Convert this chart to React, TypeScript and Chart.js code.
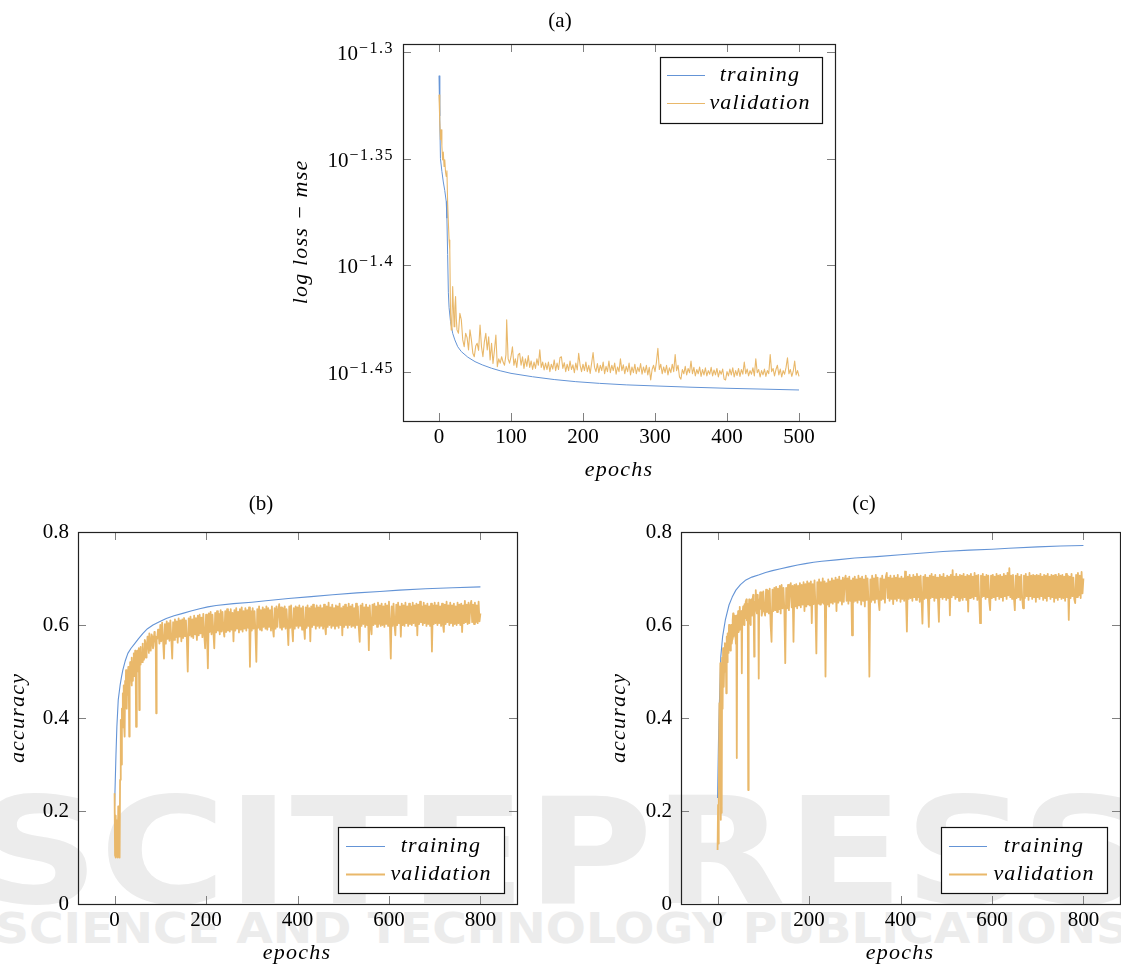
import React, { useEffect, useRef } from 'react';
import { Chart, registerables } from 'chart.js';

Chart.register(...registerables);

// ---------------- (a) log loss (values are log10 of the mse) ----------------
const xTicksA = [0, 100, 200, 300, 400, 500];
const logTicksA = [-1.45, -1.4, -1.35, -1.3];

const trainLog10MseA: [number, number][] = [
  [0, -1.3111], [1, -1.33], [2, -1.35], [4, -1.356], [6, -1.361], [8, -1.365], [10, -1.37],
  [11, -1.378], [12, -1.395], [13, -1.413], [14, -1.42], [16, -1.4265], [19, -1.432],
  [22, -1.4351], [26, -1.4383], [31, -1.4406], [40, -1.4432], [50, -1.4453], [60, -1.4468],
  [73, -1.4484], [85, -1.4496], [100, -1.4508], [130, -1.4524], [160, -1.4537], [190, -1.4547],
  [223, -1.4555], [260, -1.4562], [300, -1.4567], [350, -1.4573], [400, -1.4578], [450, -1.4582],
  [500, -1.4586],
];

// validation, epochs 0..98 (explicit epochs)
const valLog10MseAHead: [number, number][] = [
  [0, -1.3201], [1, -1.3318], [2, -1.3412], [3, -1.3365], [4, -1.344], [5, -1.3506], [6, -1.347],
  [7, -1.3537], [8, -1.3506], [9, -1.356], [10, -1.3584], [11, -1.3558], [12, -1.3709], [13, -1.38],
  [14, -1.3882], [15, -1.3929], [16, -1.4226], [17, -1.4304], [18, -1.425], [19, -1.4101], [20, -1.42],
  [21, -1.4289], [22, -1.42], [23, -1.4148], [24, -1.425], [25, -1.4304], [27, -1.432], [29, -1.4226],
  [31, -1.4257], [33, -1.4351], [35, -1.4383], [37, -1.432], [39, -1.434], [41, -1.4398], [43, -1.4304],
  [45, -1.4351], [47, -1.4414], [49, -1.443], [51, -1.438], [53, -1.4367], [55, -1.44], [57, -1.4281],
  [59, -1.4383], [61, -1.443], [63, -1.436], [65, -1.432], [67, -1.4398], [69, -1.4336], [71, -1.4445],
  [73, -1.4367], [75, -1.4461], [77, -1.44], [79, -1.4328], [81, -1.4477], [83, -1.444], [85, -1.446],
  [87, -1.443], [89, -1.4455], [91, -1.447], [93, -1.442], [94, -1.4257], [96, -1.444], [98, -1.446],
];
// validation, epochs 100..500 every 2 epochs
const valTailStartA = 100;
const valTailStepA = 2;
const valLog10MseATail = [
  -1.443, -1.4383, -1.447, -1.444, -1.448, -1.442, -1.4414, -1.447, -1.443, -1.4485, -1.444, -1.4475, -1.4425,
  -1.448, -1.445, -1.449, -1.4455, -1.4485, -1.444, -1.447, -1.4398, -1.448, -1.4455, -1.4492, -1.446,
  -1.449, -1.4455, -1.45, -1.4465, -1.4488, -1.4445, -1.4495, -1.446, -1.449, -1.4435, -1.443, -1.4485,
  -1.4458, -1.45, -1.4465, -1.4495, -1.445, -1.449, -1.4468, -1.4505, -1.446, -1.4492, -1.4414, -1.447, -1.45,
  -1.4465, -1.4495, -1.4455, -1.45, -1.447, -1.4508, -1.446, -1.441, -1.448, -1.45, -1.4462, -1.4505, -1.447,
  -1.4495, -1.4455, -1.451, -1.4475, -1.45, -1.445, -1.4505, -1.447, -1.4495, -1.446, -1.4512, -1.4478,
  -1.45, -1.444, -1.4495, -1.4468, -1.451, -1.4475, -1.45, -1.446, -1.4515, -1.4478, -1.4505, -1.4465,
  -1.451, -1.448, -1.45, -1.4462, -1.4512, -1.4478, -1.4505, -1.447, -1.4515, -1.448, -1.4539, -1.449, -1.447,
  -1.45, -1.4455, -1.439, -1.449, -1.4465, -1.451, -1.4478, -1.4505, -1.447, -1.4515, -1.4482, -1.4505,
  -1.4465, -1.45, -1.442, -1.4495, -1.447, -1.4525, -1.4535, -1.449, -1.451, -1.4475, -1.4515, -1.4485, -1.4505,
  -1.445, -1.451, -1.448, -1.452, -1.449, -1.451, -1.4478, -1.4522, -1.449, -1.4515, -1.4482, -1.452, -1.4495,
  -1.4512, -1.448, -1.452, -1.4492, -1.4515, -1.4485, -1.4525, -1.4495, -1.4512, -1.4488, -1.4535, -1.4539,
  -1.45, -1.452, -1.4488, -1.4515, -1.4482, -1.4525, -1.4495, -1.4518, -1.4485, -1.4522, -1.449, -1.4512,
  -1.4455, -1.451, -1.4488, -1.452, -1.4495, -1.4512, -1.4482, -1.452, -1.444, -1.4505, -1.449, -1.4525, -1.4495,
  -1.4515, -1.4488, -1.4522, -1.4495, -1.451, -1.442, -1.45, -1.4485, -1.452, -1.449, -1.447, -1.4515, -1.4488,
  -1.4525, -1.4495, -1.4512, -1.448, -1.4435, -1.451, -1.449, -1.4522, -1.4498, -1.445, -1.4515, -1.4495,
  -1.4522,
];

// ---------------- (b) accuracy ----------------
const xTicksBC = [0, 200, 400, 600, 800];
const yTicksBC = [0, 0.2, 0.4, 0.6, 0.8];

const trainAccB: [number, number][] = [
  [0, 0.21], [3, 0.32], [5, 0.381], [8, 0.439], [12, 0.47], [15, 0.488], [18, 0.503], [23, 0.522],
  [29, 0.539], [36, 0.55], [44, 0.56], [52, 0.57], [62, 0.582], [72, 0.592], [84, 0.6], [98, 0.607],
  [113, 0.614], [130, 0.62], [149, 0.625], [167, 0.63], [186, 0.635], [204, 0.639], [222, 0.642],
  [260, 0.646], [300, 0.649], [331, 0.652], [380, 0.657], [430, 0.661], [477, 0.665], [530, 0.669],
  [580, 0.672], [623, 0.675], [680, 0.678], [740, 0.68], [800, 0.682],
];

const valAccBHead: [number, number][] = [
  [0, 0.238], [1, 0.105], [2, 0.19], [3, 0.1], [4, 0.18], [5, 0.102], [6, 0.14], [7, 0.1], [8, 0.21],
  [9, 0.102], [10, 0.12], [11, 0.1], [12, 0.267], [13, 0.33], [14, 0.396], [15, 0.3], [16, 0.42],
  [17, 0.38], [18, 0.453], [19, 0.4], [20, 0.47], [21, 0.38], [22, 0.36], [23, 0.48], [24, 0.44],
  [25, 0.503], [26, 0.47], [27, 0.42], [28, 0.5], [29, 0.45], [30, 0.51], [31, 0.48], [32, 0.36],
  [33, 0.47], [34, 0.52], [35, 0.49], [36, 0.51], [37, 0.47], [38, 0.53], [39, 0.5], [40, 0.48],
  [41, 0.52], [42, 0.539], [43, 0.49], [44, 0.5], [45, 0.545], [46, 0.53], [47, 0.381], [48, 0.53],
  [49, 0.51], [50, 0.545], [51, 0.52], [52, 0.5], [53, 0.55], [54, 0.417], [55, 0.54], [56, 0.515],
  [57, 0.553], [58, 0.53], [60, 0.52], [61, 0.56], [62, 0.555], [64, 0.525], [65, 0.53], [66, 0.568],
  [67, 0.565], [69, 0.53], [70, 0.54], [72, 0.575], [73, 0.57], [75, 0.54], [76, 0.582], [78, 0.55],
  [79, 0.545], [81, 0.58], [82, 0.575], [84, 0.55], [85, 0.555], [87, 0.585], [88, 0.58], [90, 0.56],
  [91, 0.41], [92, 0.575], [93, 0.57], [95, 0.59], [96, 0.585], [98, 0.56], [99, 0.56],
];
const valTailStartBC = 100;
const valTailStepBC = 2;
const valAccBTail = [
  0.6, 0.565, 0.605, 0.568, 0.528, 0.602, 0.56, 0.608, 0.57, 0.604, 0.566, 0.61, 0.572, 0.528, 0.606, 0.568,
  0.612, 0.574, 0.608, 0.562, 0.614, 0.575, 0.61, 0.565, 0.612,
  0.572, 0.615, 0.576, 0.61, 0.57, 0.5, 0.614, 0.578, 0.618, 0.575, 0.612, 0.572, 0.62, 0.58, 0.615, 0.568,
  0.62, 0.578, 0.622, 0.582, 0.616, 0.574, 0.624, 0.58, 0.55,
  0.622, 0.582, 0.507, 0.625, 0.585, 0.628, 0.58, 0.622, 0.586, 0.55, 0.626, 0.584, 0.63, 0.588, 0.624, 0.58,
  0.632, 0.586, 0.628, 0.59, 0.575, 0.63, 0.585, 0.634, 0.588,
  0.628, 0.586, 0.634, 0.59, 0.626, 0.565, 0.632, 0.588, 0.636, 0.592, 0.628, 0.584, 0.634, 0.59, 0.638, 0.586,
  0.63, 0.592, 0.636, 0.588, 0.632, 0.594, 0.638, 0.51, 0.63,
  0.588, 0.636, 0.592, 0.63, 0.586, 0.521, 0.634, 0.594, 0.64, 0.59, 0.632, 0.588, 0.638, 0.596, 0.634, 0.592,
  0.64, 0.59, 0.636, 0.596, 0.632, 0.588, 0.64, 0.594, 0.575,
  0.636, 0.592, 0.64, 0.596, 0.632, 0.645, 0.594, 0.638, 0.59, 0.636, 0.596, 0.64, 0.592, 0.634, 0.598, 0.557,
  0.64, 0.594, 0.642, 0.596, 0.565, 0.636, 0.592, 0.64, 0.598,
  0.638, 0.594, 0.642, 0.598, 0.636, 0.59, 0.64, 0.596, 0.57, 0.638, 0.594, 0.642, 0.598, 0.636, 0.565, 0.64,
  0.596, 0.644, 0.6, 0.636, 0.592, 0.642, 0.598, 0.638, 0.594,
  0.642, 0.598, 0.636, 0.592, 0.644, 0.598, 0.58, 0.64, 0.596, 0.648, 0.6, 0.638, 0.594, 0.644, 0.598, 0.636,
  0.592, 0.642, 0.598, 0.64, 0.594, 0.646, 0.6, 0.636, 0.578,
  0.64, 0.596, 0.644, 0.6, 0.638, 0.594, 0.646, 0.6, 0.64, 0.596, 0.644, 0.598, 0.636, 0.594, 0.646, 0.6, 0.64,
  0.594, 0.564, 0.642, 0.598, 0.646, 0.602, 0.638, 0.596,
  0.644, 0.6, 0.638, 0.546, 0.642, 0.598, 0.58, 0.644, 0.6, 0.646, 0.602, 0.64, 0.596, 0.648, 0.602, 0.642,
  0.598, 0.646, 0.6, 0.64, 0.596, 0.646, 0.602, 0.642, 0.598,
  0.65, 0.604, 0.528, 0.64, 0.598, 0.646, 0.602, 0.578, 0.644, 0.6, 0.648, 0.604, 0.64, 0.575, 0.646, 0.6,
  0.642, 0.598, 0.648, 0.604, 0.64, 0.598, 0.646, 0.602, 0.64,
  0.6, 0.648, 0.604, 0.642, 0.598, 0.646, 0.578, 0.644, 0.602, 0.65, 0.606, 0.64, 0.6, 0.648, 0.604, 0.642,
  0.598, 0.646, 0.602, 0.64, 0.598, 0.646, 0.543, 0.642, 0.602,
  0.648, 0.604, 0.642, 0.6, 0.648, 0.604, 0.64, 0.598, 0.646, 0.602, 0.585, 0.644, 0.602, 0.65, 0.606, 0.642,
  0.6, 0.648, 0.604, 0.642, 0.598, 0.646, 0.602, 0.64, 0.6,
  0.648, 0.604, 0.644, 0.6, 0.646, 0.585, 0.642, 0.604, 0.652, 0.606, 0.644, 0.602, 0.648, 0.604, 0.642, 0.652,
  0.606, 0.644, 0.602, 0.648, 0.606, 0.642, 0.604, 0.65, 0.608,
  0.625,
];

// ---------------- (c) accuracy ----------------
const trainAccC: [number, number][] = [
  [0, 0.228], [2, 0.35], [4, 0.432], [7, 0.532], [11, 0.575], [17, 0.611], [25, 0.643], [32, 0.66],
  [40, 0.675], [50, 0.687], [62, 0.697], [75, 0.703], [91, 0.708], [105, 0.713], [120, 0.717],
  [138, 0.721], [156, 0.725], [175, 0.729], [192, 0.732], [210, 0.735], [228, 0.737], [260, 0.74],
  [300, 0.744], [348, 0.747], [400, 0.751], [450, 0.755], [493, 0.758], [550, 0.761], [600, 0.763],
  [637, 0.765], [700, 0.768], [750, 0.77], [800, 0.771],
];

const valAccCHead: [number, number][] = [
  [0, 0.116], [1, 0.213], [2, 0.13], [3, 0.2], [4, 0.432], [5, 0.25], [6, 0.518], [7, 0.181],
  [8, 0.45], [9, 0.196], [10, 0.53], [11, 0.42], [12, 0.55], [13, 0.48], [14, 0.467], [15, 0.54],
  [16, 0.561], [17, 0.5], [18, 0.54], [19, 0.453], [20, 0.575], [21, 0.52], [22, 0.582], [23, 0.54],
  [24, 0.56], [25, 0.6], [26, 0.59], [27, 0.55], [28, 0.545], [29, 0.595], [30, 0.6], [31, 0.56],
  [32, 0.57], [33, 0.61], [34, 0.625], [35, 0.575], [36, 0.59], [37, 0.62], [38, 0.61], [39, 0.58],
  [40, 0.56], [41, 0.62], [42, 0.314], [43, 0.6], [44, 0.61], [45, 0.63], [46, 0.585], [47, 0.59],
  [48, 0.625], [49, 0.639], [50, 0.59], [51, 0.6], [52, 0.63], [53, 0.496], [54, 0.62], [55, 0.62],
  [56, 0.64], [57, 0.605], [58, 0.6], [59, 0.645], [60, 0.62], [61, 0.615], [62, 0.65], [63, 0.655],
  [64, 0.61], [65, 0.61], [66, 0.645], [67, 0.245], [68, 0.62], [69, 0.655], [70, 0.64], [71, 0.61],
  [72, 0.6], [73, 0.65], [74, 0.655], [75, 0.62], [76, 0.63], [77, 0.66], [78, 0.665], [79, 0.625],
  [80, 0.532], [81, 0.64], [82, 0.65], [83, 0.665], [84, 0.675], [85, 0.63], [86, 0.625], [87, 0.665],
  [88, 0.66], [89, 0.63], [90, 0.485], [91, 0.655], [92, 0.64], [93, 0.67], [94, 0.635], [95, 0.67],
  [96, 0.64], [97, 0.62], [98, 0.63], [99, 0.66],
];
const valAccCTail = [
  0.672, 0.63, 0.62, 0.676, 0.628, 0.674, 0.625, 0.678, 0.6, 0.564, 0.676, 0.63, 0.68, 0.632, 0.682, 0.628,
  0.678, 0.634, 0.684, 0.625, 0.686, 0.636, 0.68, 0.632, 0.518,
  0.68, 0.636, 0.686, 0.632, 0.682, 0.69, 0.638, 0.684, 0.564, 0.686, 0.64, 0.688, 0.636, 0.684, 0.642, 0.69,
  0.638, 0.686, 0.644, 0.692, 0.63, 0.688, 0.64, 0.694, 0.644,
  0.69, 0.642, 0.694, 0.604, 0.688, 0.645, 0.696, 0.64, 0.539, 0.692, 0.646, 0.698, 0.644, 0.692, 0.648, 0.7,
  0.646, 0.694, 0.489, 0.69, 0.644, 0.698, 0.64, 0.694, 0.648,
  0.7, 0.646, 0.696, 0.65, 0.702, 0.63, 0.698, 0.648, 0.704, 0.652, 0.696, 0.644, 0.702, 0.65, 0.698, 0.706,
  0.652, 0.7, 0.646, 0.704, 0.652, 0.696, 0.578, 0.7, 0.65,
  0.704, 0.652, 0.698, 0.648, 0.706, 0.654, 0.7, 0.644, 0.704, 0.652, 0.698, 0.64, 0.706, 0.654, 0.7, 0.65,
  0.489, 0.698, 0.65, 0.706, 0.654, 0.7, 0.648, 0.708, 0.656,
  0.702, 0.652, 0.632, 0.7, 0.654, 0.706, 0.656, 0.698, 0.648, 0.704, 0.712, 0.658, 0.702, 0.652, 0.706, 0.656,
  0.7, 0.645, 0.706, 0.656, 0.702, 0.652, 0.708, 0.658, 0.7,
  0.65, 0.704, 0.656, 0.7, 0.652, 0.715, 0.66, 0.586, 0.704, 0.656, 0.708, 0.658, 0.702, 0.652, 0.708, 0.66,
  0.704, 0.654, 0.71, 0.66, 0.704, 0.65, 0.706, 0.656, 0.603,
  0.704, 0.656, 0.708, 0.658, 0.702, 0.652, 0.596, 0.706, 0.658, 0.71, 0.66, 0.704, 0.652, 0.708, 0.658, 0.702,
  0.654, 0.607, 0.708, 0.66, 0.704, 0.656, 0.71, 0.66, 0.702,
  0.654, 0.706, 0.658, 0.704, 0.621, 0.708, 0.66, 0.718, 0.664, 0.704, 0.656, 0.71, 0.66, 0.704, 0.652, 0.708,
  0.658, 0.706, 0.654, 0.71, 0.66, 0.704, 0.654, 0.708, 0.629,
  0.706, 0.658, 0.71, 0.66, 0.704, 0.656, 0.712, 0.662, 0.706, 0.654, 0.708, 0.658, 0.604, 0.706, 0.66, 0.71,
  0.662, 0.704, 0.656, 0.708, 0.66, 0.706, 0.652, 0.632, 0.706,
  0.658, 0.708, 0.66, 0.704, 0.654, 0.71, 0.662, 0.706, 0.656, 0.708, 0.66, 0.704, 0.652, 0.71, 0.662, 0.706,
  0.656, 0.712, 0.664, 0.722, 0.66, 0.706, 0.656, 0.708, 0.66,
  0.632, 0.706, 0.658, 0.71, 0.66, 0.704, 0.654, 0.708, 0.66, 0.636, 0.706, 0.658, 0.71, 0.662, 0.704, 0.654,
  0.712, 0.662, 0.706, 0.656, 0.708, 0.66, 0.706, 0.65, 0.708,
  0.66, 0.706, 0.656, 0.71, 0.662, 0.704, 0.654, 0.708, 0.658, 0.706, 0.652, 0.71, 0.662, 0.704, 0.656, 0.708,
  0.66, 0.706, 0.65, 0.708, 0.658, 0.704, 0.654, 0.71, 0.66,
  0.706, 0.656, 0.708, 0.658, 0.704, 0.652, 0.71, 0.66, 0.706, 0.611, 0.704, 0.658, 0.71, 0.662, 0.702, 0.656,
  0.647, 0.708, 0.66, 0.712, 0.664, 0.706, 0.658, 0.714, 0.668,
  0.7,
];

const seriesLabels = ['training', 'validation'];

// ---------------- styling ----------------
const SERIF = '"Liberation Serif", "Times New Roman", serif';
const BLUE = '#6494d6';
const ORANGE = '#e9b86a';
const TICK_LEN = 8;
const Y_AXIS_W = 60;
const X_AXIS_H = 40;

const withTail = (head: [number, number][], tail: number[], start: number, step: number) =>
  head.concat(tail.map((v, i) => [start + i * step, v] as [number, number]));
const toXY = (pairs: [number, number][]) => pairs.map(([x, y]) => ({ x, y }));
const toXYPow10 = (pairs: [number, number][]) => pairs.map(([x, e]) => ({ x, y: Math.pow(10, e) }));

function makeDeco(d: any) {
  return {
    id: 'deco',
    afterDatasetsDraw(chart: any) {
      const { ctx, chartArea: a } = chart;
      const xs = chart.scales.x;
      const ys = chart.scales.y;
      ctx.save();
      ctx.strokeStyle = '#808080';
      ctx.lineWidth = 1;
      ctx.beginPath();
      d.xTicks.forEach((v: number) => {
        const p = Math.round(xs.getPixelForValue(v)) + 0.5;
        ctx.moveTo(p, a.bottom);
        ctx.lineTo(p, a.bottom - TICK_LEN);
        ctx.moveTo(p, a.top);
        ctx.lineTo(p, a.top + TICK_LEN);
      });
      d.yTickValues.forEach((v: number) => {
        const p = Math.round(ys.getPixelForValue(v)) + 0.5;
        ctx.moveTo(a.left, p);
        ctx.lineTo(a.left + TICK_LEN, p);
        ctx.moveTo(a.right, p);
        ctx.lineTo(a.right - TICK_LEN, p);
      });
      ctx.stroke();
      ctx.strokeStyle = '#222';
      ctx.lineWidth = 1.2;
      ctx.strokeRect(a.left + 0.5, a.top + 0.5, a.right - a.left, a.bottom - a.top);

      ctx.fillStyle = '#000';
      if (d.logExps) {
        d.logExps.forEach((e: number) => {
          const py = ys.getPixelForValue(Math.pow(10, e));
          const expStr = String(e).replace('-', '\u2212');
          const right = a.left - 9;
          ctx.textBaseline = 'alphabetic';
          ctx.textAlign = 'left';
          ctx.font = `16px ${SERIF}`;
          ctx.letterSpacing = '1.5px';
          const wExp = ctx.measureText(expStr).width;
          ctx.letterSpacing = '0px';
          ctx.font = `21px ${SERIF}`;
          const w10 = ctx.measureText('10').width;
          ctx.fillText('10', right - wExp - w10 - 1, py + 8);
          ctx.font = `16px ${SERIF}`;
          ctx.letterSpacing = '1.5px';
          ctx.fillText(expStr, right - wExp, py + 1);
          ctx.letterSpacing = '0px';
        });
      }
      ctx.textAlign = 'center';
      ctx.textBaseline = 'middle';
      ctx.font = `21px ${SERIF}`;
      ctx.fillText(d.title.text, d.title.x, d.title.y);
      ctx.font = `italic 22px ${SERIF}`;
      ctx.letterSpacing = '1.2px';
      ctx.fillText(d.xLabel.text, d.xLabel.x, d.xLabel.y);
      ctx.save();
      ctx.translate(d.yLabel.x, d.yLabel.y);
      ctx.rotate(-Math.PI / 2);
      ctx.fillText(d.yLabel.text, 0, 0);
      ctx.restore();
      const L = d.legend;
      ctx.fillStyle = '#fff';
      ctx.fillRect(L.x0, L.y0, L.x1 - L.x0, L.y1 - L.y0);
      ctx.strokeStyle = '#111';
      ctx.lineWidth = 1.2;
      ctx.strokeRect(L.x0 + 0.5, L.y0 + 0.5, L.x1 - L.x0, L.y1 - L.y0);
      chart.data.datasets.forEach((ds: any, i: number) => {
        const y = L.rows[i];
        ctx.strokeStyle = ds.borderColor;
        ctx.lineWidth = ds.borderWidth;
        ctx.beginPath();
        ctx.moveTo(L.lineX0, y + 0.5);
        ctx.lineTo(L.lineX1, y + 0.5);
        ctx.stroke();
        ctx.fillStyle = '#000';
        ctx.fillText(ds.label, L.textX, y);
      });
      ctx.restore();
    },
  };
}

function makeConfig(p: any) {
  const ticksFont = { family: SERIF, size: 21 };
  return {
    type: 'line',
    data: {
      datasets: [
        { label: seriesLabels[0], data: p.train, borderColor: BLUE, borderWidth: p.trainWidth, pointRadius: 0, borderJoinStyle: 'round', order: 1 },
        { label: seriesLabels[1], data: p.val, borderColor: ORANGE, borderWidth: p.valWidth, pointRadius: 0, borderJoinStyle: 'round', order: 0 },
      ],
    },
    options: {
      responsive: false,
      animation: false,
      devicePixelRatio: 1,
      layout: {
        padding: {
          left: p.area.left - Y_AXIS_W,
          right: p.width - p.area.right,
          top: p.area.top,
          bottom: p.height - p.area.bottom - X_AXIS_H,
        },
      },
      plugins: { legend: { display: false }, title: { display: false }, tooltip: { enabled: false } },
      scales: {
        x: {
          type: 'linear',
          min: p.xMin,
          max: p.xMax,
          grid: { display: false, drawTicks: false },
          border: { display: false },
          ticks: { font: ticksFont, color: '#000', padding: 4, maxRotation: 0, autoSkip: false },
          afterBuildTicks: (s: any) => {
            s.ticks = p.xTicks.map((v: number) => ({ value: v }));
          },
          afterFit: (s: any) => {
            s.height = X_AXIS_H;
          },
        },
        y: p.logExps
          ? {
              type: 'logarithmic',
              min: p.yMin,
              max: p.yMax,
              grid: { display: false, drawTicks: false },
              border: { display: false },
              ticks: { display: false },
              afterBuildTicks: (s: any) => {
                s.ticks = p.logExps.map((e: number) => ({ value: Math.pow(10, e) }));
              },
              afterFit: (s: any) => {
                s.width = Y_AXIS_W;
              },
            }
          : {
              type: 'linear',
              min: p.yMin,
              max: p.yMax,
              grid: { display: false, drawTicks: false },
              border: { display: false },
              ticks: { font: ticksFont, color: '#000', padding: 9, autoSkip: false },
              afterBuildTicks: (s: any) => {
                s.ticks = p.yTicks.map((v: number) => ({ value: v }));
              },
              afterFit: (s: any) => {
                s.width = Y_AXIS_W;
              },
            },
      },
    },
    plugins: [
      makeDeco({
        xTicks: p.xTicks,
        yTickValues: p.logExps ? p.logExps.map((e: number) => Math.pow(10, e)) : p.yTicks,
        logExps: p.logExps,
        title: p.title,
        xLabel: p.xLabel,
        yLabel: p.yLabel,
        legend: p.legend,
      }),
    ],
  };
}

const panels = [
  {
    key: 'a',
    left: 280,
    top: 0,
    width: 570,
    height: 485,
    area: { left: 123, top: 44, right: 555, bottom: 421 },
    train: toXYPow10(trainLog10MseA),
    val: toXYPow10(withTail(valLog10MseAHead, valLog10MseATail, valTailStartA, valTailStepA)),
    trainWidth: 1,
    valWidth: 1.1,
    xMin: -50,
    xMax: 550,
    xTicks: xTicksA,
    yMin: Math.pow(10, -1.47316),
    yMax: Math.pow(10, -1.29624),
    logExps: logTicksA,
    yTicks: null,
    title: { text: '(a)', x: 280, y: 21 },
    xLabel: { text: 'epochs', x: 339, y: 470 },
    yLabel: { text: 'log loss \u2212 mse', x: 21, y: 232 },
    legend: { x0: 380, y0: 57, x1: 542, y1: 123, lineX0: 387, lineX1: 425, textX: 480, rows: [75, 103] },
  },
  {
    key: 'b',
    left: 0,
    top: 485,
    width: 560,
    height: 480,
    area: { left: 78, top: 47, right: 517, bottom: 419 },
    train: toXY(trainAccB),
    val: toXY(withTail(valAccBHead, valAccBTail, valTailStartBC, valTailStepBC)),
    trainWidth: 1.1,
    valWidth: 1.8,
    xMin: -80,
    xMax: 880,
    xTicks: xTicksBC,
    yMin: 0,
    yMax: 0.8,
    logExps: null,
    yTicks: yTicksBC,
    title: { text: '(b)', x: 261, y: 19 },
    xLabel: { text: 'epochs', x: 297, y: 468 },
    yLabel: { text: 'accuracy', x: 18, y: 233 },
    legend: { x0: 338, y0: 342, x1: 504, y1: 408, lineX0: 346, lineX1: 385, textX: 441, rows: [361, 389] },
  },
  {
    key: 'c',
    left: 560,
    top: 485,
    width: 561,
    height: 480,
    area: { left: 121, top: 47, right: 560, bottom: 419 },
    train: toXY(trainAccC),
    val: toXY(withTail(valAccCHead, valAccCTail, valTailStartBC, valTailStepBC)),
    trainWidth: 1.1,
    valWidth: 1.8,
    xMin: -80,
    xMax: 880,
    xTicks: xTicksBC,
    yMin: 0,
    yMax: 0.8,
    logExps: null,
    yTicks: yTicksBC,
    title: { text: '(c)', x: 304, y: 19 },
    xLabel: { text: 'epochs', x: 340, y: 468 },
    yLabel: { text: 'accuracy', x: 59, y: 233 },
    legend: { x0: 381, y0: 342, x1: 547, y1: 408, lineX0: 389, lineX1: 427, textX: 484, rows: [361, 389] },
  },
];

function Panel({ p }: { p: any }) {
  const ref = useRef<HTMLCanvasElement | null>(null);
  useEffect(() => {
    if (!ref.current) return;
    const chart = new Chart(ref.current, makeConfig(p) as any);
    return () => chart.destroy();
  }, []);
  return (
    <canvas
      ref={ref}
      width={p.width}
      height={p.height}
      style={{ position: 'absolute', left: p.left, top: p.top, width: p.width, height: p.height }}
    />
  );
}

export default function App() {
  return (
    <div style={{ position: 'absolute', left: 0, top: 0, width: 1121, height: 965, overflow: 'hidden', background: '#fff' }}>
      <svg width={1121} height={965} style={{ position: 'absolute', left: 0, top: 0 }}>
        <text x={-25} y={903} fontFamily="DejaVu Sans" fontWeight="bold" fontSize={148} fill="#ececec" textLength={1170} lengthAdjust="spacingAndGlyphs">
          SCITEPRESS
        </text>
        <text x={-5} y={943} fontFamily="DejaVu Sans" fontWeight="bold" fontSize={43} fill="#ececec" textLength={1135} lengthAdjust="spacingAndGlyphs">
          SCIENCE AND TECHNOLOGY PUBLICATIONS
        </text>
      </svg>
      {panels.map((p) => (
        <Panel key={p.key} p={p} />
      ))}
    </div>
  );
}
